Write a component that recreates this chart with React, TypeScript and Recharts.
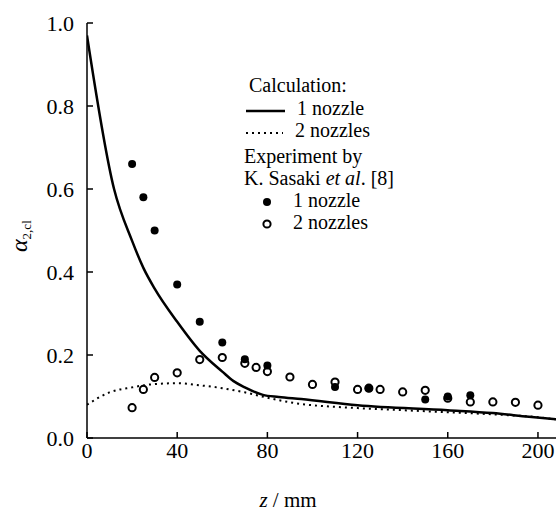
import {
  ComposedChart,
  Line,
  Scatter,
  XAxis,
  YAxis,
} from "recharts";

// calculation, 1 nozzle
const calc1Z = [0, 12, 20, 25, 30, 40, 50, 60, 65, 70, 78, 85, 95, 120, 160, 180, 196, 208];
const calc1A = [0.97, 0.6, 0.475, 0.41, 0.36, 0.28, 0.21, 0.16, 0.137, 0.122, 0.104, 0.099, 0.094, 0.079, 0.067, 0.06, 0.051, 0.045];

// calculation, 2 nozzles
const calc2Z = [0, 10, 20, 30, 40, 50, 60, 70, 80, 90, 120, 140, 160, 180, 200, 208];
const calc2A = [0.08, 0.11, 0.122, 0.13, 0.132, 0.127, 0.12, 0.11, 0.097, 0.086, 0.072, 0.067, 0.062, 0.057, 0.05, 0.045];

// experiment (Sasaki et al.), 1 nozzle
const exp1Z = [20, 25, 30, 40, 50, 60, 70, 80, 110, 125, 150, 160, 170];
const exp1A = [0.66, 0.58, 0.5, 0.37, 0.28, 0.23, 0.19, 0.175, 0.123, 0.12, 0.093, 0.1, 0.103];

// experiment, 2 nozzles
const exp2Z = [20, 25, 30, 40, 50, 60, 70, 75, 80, 90, 100, 110, 120, 125, 130, 140, 150, 160, 170, 180, 190, 200];
const exp2A = [0.073, 0.117, 0.146, 0.157, 0.189, 0.194, 0.18, 0.17, 0.16, 0.147, 0.129, 0.135, 0.117, 0.12, 0.117, 0.111, 0.115, 0.096, 0.087, 0.087, 0.086, 0.079];

const xTicks = [0, 40, 80, 120, 160, 200];
const yTicks = [0, 0.2, 0.4, 0.6, 0.8, 1.0];

const zip = (zs: number[], as: number[]) => zs.map((z, i) => ({ z, a: as[i] }));

const FONT = "Liberation Serif, Tinos, Times New Roman, DejaVu Serif, serif";

const FilledDot = (p: any) => <circle cx={p.cx} cy={p.cy} r={4} fill="#000" />;
const OpenDot = (p: any) => (
  <circle cx={p.cx} cy={p.cy} r={3.6} fill="none" stroke="#000" strokeWidth={2} />
);

export default function App() {
  return (
    <div style={{ position: "absolute", left: 0, top: 0, width: 560, height: 518, background: "#fff", fontFamily: FONT }}>
      <ComposedChart width={560} height={518} margin={{ top: 23, right: 4, bottom: 0, left: 0 }}>
        <XAxis
          dataKey="z"
          type="number"
          domain={[0, 208]}
          ticks={xTicks}
          allowDataOverflow
          height={80}
          tickSize={-6}
          tickMargin={10}
          stroke="#000"
          strokeWidth={1.5}
          tick={{ fill: "#000", fontSize: 22, fontFamily: FONT }}
        />
        <YAxis
          dataKey="a"
          type="number"
          domain={[0, 1]}
          ticks={yTicks}
          width={87}
          tickSize={-6}
          tickMargin={19}
          stroke="#000"
          strokeWidth={1.5}
          tickFormatter={(v: number) => v.toFixed(1)}
          tick={{ fill: "#000", fontSize: 22, fontFamily: FONT }}
        />
        <Line
          data={zip(calc2Z, calc2A)}
          dataKey="a"
          type="monotone"
          stroke="#000"
          strokeWidth={2}
          strokeDasharray="2 4"
          dot={false}
          activeDot={false}
          isAnimationActive={false}
        />
        <Line
          data={zip(calc1Z, calc1A)}
          dataKey="a"
          type="monotone"
          stroke="#000"
          strokeWidth={2.5}
          dot={false}
          activeDot={false}
          isAnimationActive={false}
        />
        <Scatter data={zip(exp2Z, exp2A)} dataKey="a" shape={OpenDot} isAnimationActive={false} />
        <Scatter data={zip(exp1Z, exp1A)} dataKey="a" shape={FilledDot} isAnimationActive={false} />
      </ComposedChart>

      <svg width={560} height={518} style={{ position: "absolute", left: 0, top: 0, pointerEvents: "none" }}>
        <g fontFamily={FONT} fontSize={20} fill="#000">
          <text x={249} y={92}>Calculation:</text>
          <line x1={246} x2={285} y1={111} y2={111} stroke="#000" strokeWidth={2.5} />
          <text x={297} y={115}>1 nozzle</text>
          <line x1={246} x2={283} y1={133} y2={133} stroke="#000" strokeWidth={2} strokeDasharray="2 4" />
          <text x={295} y={137}>2 nozzles</text>
          <text x={244} y={163}>Experiment by</text>
          <text x={244} y={185}>
            K. Sasaki <tspan fontStyle="italic">et al</tspan>. [8]
          </text>
          <circle cx={267} cy={202} r={4} fill="#000" />
          <text x={293} y={207}>1 nozzle</text>
          <circle cx={267} cy={224} r={3.6} fill="none" stroke="#000" strokeWidth={2} />
          <text x={293} y={229}>2 nozzles</text>

          <text x={288} y={507} textAnchor="middle" fontSize={21}>
            <tspan fontStyle="italic">z</tspan> / mm
          </text>
          <text x={27} y={252} transform="rotate(-90 27 252)" fontSize={24}>
            <tspan fontStyle="italic">α</tspan>
            <tspan fontSize={13} dy={4}>2,cl</tspan>
          </text>
        </g>
      </svg>
    </div>
  );
}
